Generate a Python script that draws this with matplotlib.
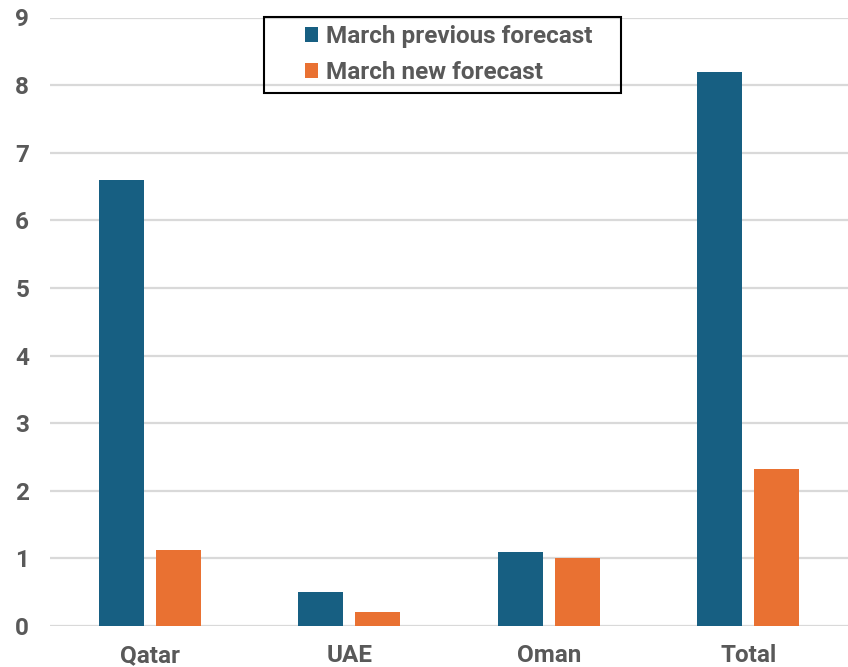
import matplotlib
matplotlib.use("Agg")
import matplotlib.pyplot as plt
from matplotlib.patches import Rectangle
import numpy as np

categories = ["Qatar", "UAE", "Oman", "Total"]
previous_forecast = [6.6, 0.5, 1.1, 8.2]
new_forecast = [1.12, 0.2, 1.0, 2.32]
series_labels = ["March previous forecast", "March new forecast"]
y_ticks = list(range(0, 10))

BLUE = "#175F82"
ORANGE = "#E97132"
TEXT = "#595959"
GRID = "#D9D9D9"
FS = 17.5

plt.rcParams["font.family"] = ["Roboto", "DejaVu Sans"]

W, H = 848, 667
fig = plt.figure(figsize=(W / 100, H / 100), dpi=100)
ax = fig.add_axes([50 / W, 1 - 626 / H, 1 - 50 / W, (626 - 17.5) / H])

x = np.arange(len(categories))
w = 0.225
off = 0.1425
ax.bar(x - off, previous_forecast, width=w, color=BLUE, label=series_labels[0], zorder=3)
ax.bar(x + off, new_forecast, width=w, color=ORANGE, label=series_labels[1], zorder=3)

ax.set_xlim(-0.5, len(categories) - 0.5)
ax.set_ylim(0, 9)
ax.set_yticks(y_ticks)
ax.set_xticks(x)
ax.set_xticklabels(categories)
ax.grid(axis="y", color=GRID, linewidth=1.6, zorder=0)
ax.set_axisbelow(True)
for s in ax.spines.values():
    s.set_visible(False)
ax.tick_params(axis="both", length=0, labelsize=FS, colors=TEXT)
ax.tick_params(axis="y", pad=15)
ax.tick_params(axis="x", pad=13)
for lab in ax.get_xticklabels() + ax.get_yticklabels():
    lab.set_fontweight("bold")

# legend entries without frame, framed by a separate rectangle
leg = ax.legend(loc="upper left", bbox_to_anchor=(305 / W, 1 - 25 / H),
                bbox_transform=fig.transFigure, frameon=False,
                prop={"size": FS, "weight": "bold"}, labelcolor=TEXT,
                handlelength=0.55, handleheight=0.55, handletextpad=0.3,
                borderpad=0, labelspacing=0.55, borderaxespad=0)
fig.add_artist(Rectangle((264 / W, 1 - 93 / H), (621 - 264) / W, (93 - 17) / H,
                         transform=fig.transFigure, fill=False,
                         edgecolor="black", linewidth=1.5, zorder=5))

fig.savefig("out.png", dpi=100)
